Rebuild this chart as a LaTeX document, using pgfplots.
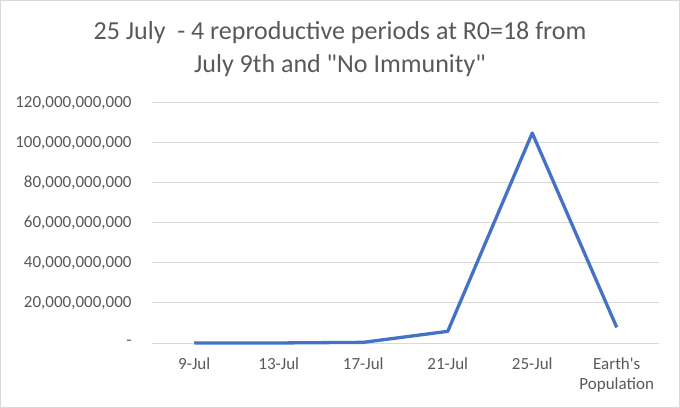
\documentclass[border=0pt]{standalone}
\usepackage{pgfplots}
\pgfplotsset{compat=1.18}
\usepackage{fontspec}
\setmainfont{Carlito}[Ligatures=TeXOff]
\definecolor{txt}{HTML}{595959}
\definecolor{grd}{HTML}{D9D9D9}
\definecolor{ln}{HTML}{4472C4}
\begin{document}
\begin{tikzpicture}
\draw[grd, line width=1bp] (0.5bp,0.5bp) rectangle (679.5bp,407.5bp);
\node[text=txt, font=\fontsize{26bp}{32bp}\selectfont, anchor=base, inner sep=0pt] at (340bp,368bp) {25 July\ \ - 4 reproductive periods at R0=18 from};
\node[text=txt, font=\fontsize{26bp}{32bp}\selectfont, anchor=base, inner sep=0pt] at (340bp,335bp) {July 9th and "No Immunity"};
\begin{axis}[
  at={(152bp,65bp)}, anchor=south west,
  scale only axis, width=507bp, height=240bp,
  xmin=-0.5, xmax=5.5, ymin=0, ymax=1.2e11,
  scaled y ticks=false,
  xtick={0,1,2,3,4,5},
  xticklabels={9-Jul,13-Jul,17-Jul,21-Jul,25-Jul,{Earth's\\Population}},
  ytick={0,2e10,4e10,6e10,8e10,1e11,1.2e11},
  yticklabels={{-},{20,000,000,000},{40,000,000,000},{60,000,000,000},{80,000,000,000},{100,000,000,000},{120,000,000,000}},
  major tick length=0pt,
  axis line style={draw=none},
  ymajorgrids, grid style={grd, line width=1bp},
  ticklabel style={text=txt, font=\fontsize{17bp}{20bp}\selectfont},
  xticklabel style={align=center, anchor=north, yshift=-11bp},
  yticklabel style={anchor=east, xshift=-17bp},
  clip=false,
]
\addplot[ln, line width=3.3bp, line join=round, mark=none] coordinates {
  (0,1000000) (1,18000000) (2,324000000) (3,5832000000) (4,104976000000) (5,7800000000)
};
\end{axis}
\end{tikzpicture}
\end{document}
